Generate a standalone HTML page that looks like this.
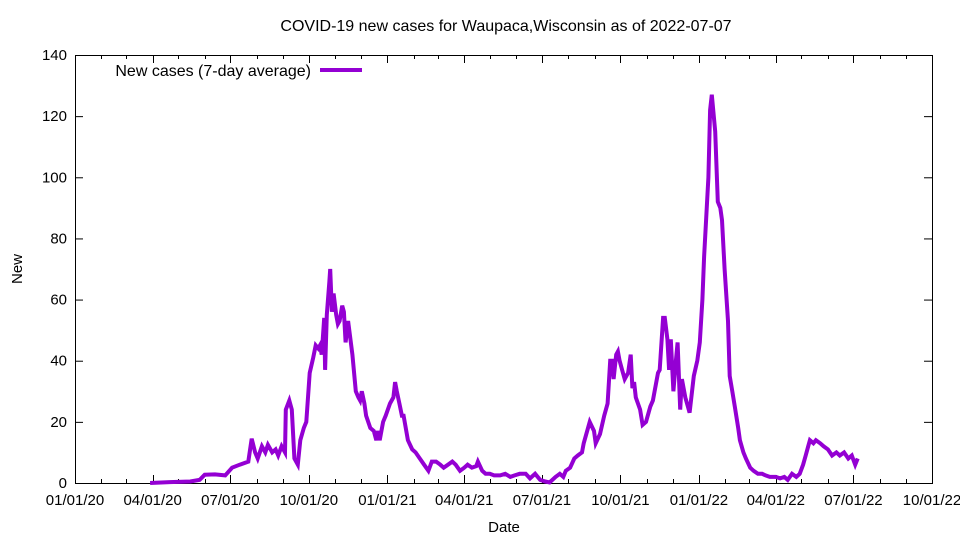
<!DOCTYPE html>
<html><head><meta charset="utf-8"><style>
body{margin:0;background:#fff}
svg{display:block;font-family:"Liberation Sans",sans-serif}
</style></head><body>
<svg id="c" width="960" height="540"></svg>
<script>
const days=[88,111,135,146,152,164,176,184,193,203,207,211,214,219,223,226,231,235,238,242,246,247,251,254,257,261,264,268,271,273,275,279,282,285,287,289,292,293,295,298,299,301,303,306,308,310,313,315,317,320,325,329,332,334,336,339,341,346,350,353,355,357,361,364,369,373,375,377,380,383,385,390,395,399,404,409,414,418,423,428,432,437,442,446,451,456,460,465,470,472,477,481,486,491,498,504,510,515,521,528,533,539,545,551,556,563,568,572,575,580,585,589,594,596,603,608,610,615,620,624,627,629,631,634,636,638,641,644,648,651,653,655,657,662,665,669,674,677,679,683,685,689,691,694,696,698,701,704,706,709,711,715,718,720,725,729,732,735,737,742,744,746,750,753,756,758,761,765,767,770,773,777,779,783,786,791,795,800,805,809,814,821,826,831,835,840,845,849,853,856,859,861,865,868,873,877,882,887,892,896,901,906,910,914,917];
const values=[0,0.3,0.5,1,2.7,2.8,2.5,5,6,7,14.5,10,8,12,10,12.5,10,11,9,12,10,24,27,24,8,6,14,18,20,28,36,41,45,44,45,42,54,37,55,66,70,56,62,55,52,53,58,56,46,53,42,30,28,27,30,26,22,18,17,14,17,14,20,22,26,28,33,30,26,22,22,14,11,10,8,6,4,7,7,6,5,6,7,6,4,5,6,5,5.5,7,4,3,3,2.5,2.5,3,2,2.5,3,3,1.5,3,1,0.5,0.2,2,3,2,4,5,8,9,10,13,20,17,13,16,22,26,40,40,34,42,43,40,37,34,36,42,31,33,28,24,19,20,25,27,30,36,37,54,54,47,37,47,30,40,46,24,34,28,25,23,35,40,46,60,74,100,122,127,115,92,90,86,70,53,35,30,25,18,14,10,8,5,4,3,3,2.5,2,2,1.5,2,1,3,2,3,6,9,12,14,13,14,13,12,11,9,10,9,10,8,9,6,8];
const yTicks=[0,20,40,60,80,100,120,140];
const xTickLabels=["01/01/20","04/01/20","07/01/20","10/01/20","01/01/21","04/01/21","07/01/21","10/01/21","01/01/22","04/01/22","07/01/22","10/01/22"];
const xTickDays=[0,91,182,274,366,456,547,639,731,821,912,1004];
const minorDays=[31,60,121,152,213,244,305,335,397,425,486,517,578,609,670,700,762,790,851,882,943,974];

const L=75,R=932,T=55,B=483,XMAX=1004,YMAX=140;
const X=d=>L+d/XMAX*(R-L), Y=v=>B-v/YMAX*(B-T);
const svg=document.getElementById('c'),NS='http://www.w3.org/2000/svg';
function mk(tag,attrs,parent){const e=document.createElementNS(NS,tag);for(const k in attrs)e.setAttribute(k,attrs[k]);(parent||svg).appendChild(e);return e;}

const title=mk('text',{x:506,y:31,'text-anchor':'middle','font-size':16});
title.textContent='COVID-19 new cases for Waupaca,Wisconsin as of 2022-07-07';



const ticks=mk('g',{stroke:'#000','stroke-width':1});


yTicks.forEach(v=>{
  const y=Y(v)+0.5;
  mk('line',{x1:L,x2:L+8,y1:y,y2:y},ticks);
  mk('line',{x1:R-8,x2:R,y1:y,y2:y},ticks);
  const t=mk('text',{x:L-8,y:Y(v)+5,'text-anchor':'end','font-size':15});
  t.textContent=v;
  
  
});
xTickDays.forEach((d,i)=>{
  const x=Math.round(X(d))+0.5;
  mk('line',{x1:x,x2:x,y1:B,y2:B-8},ticks);
  mk('line',{x1:x,x2:x,y1:T,y2:T+8},ticks);
  const t=mk('text',{x:X(d),y:B+22,'text-anchor':'middle','font-size':15});
  t.textContent=xTickLabels[i];
  
  
});
minorDays.forEach(d=>{
  const x=Math.round(X(d))+0.5;
  mk('line',{x1:x,x2:x,y1:B,y2:B-4},ticks);
  mk('line',{x1:x,x2:x,y1:T,y2:T+4},ticks);
});

const frame=mk('rect',{x:L+0.5,y:T+0.5,width:R-L,height:B-T,fill:'none',stroke:'#000','stroke-width':1});



const yl=mk('text',{x:22,y:269,'text-anchor':'middle','font-size':15,transform:'rotate(-90 22 269)'});
yl.textContent='New';


const xl=mk('text',{x:504,y:532,'text-anchor':'middle','font-size':15});
xl.textContent='Date';



const pts=days.map((d,i)=>X(d).toFixed(1)+','+Y(values[i]).toFixed(1)).join(' ');
const line=mk('polyline',{points:pts,fill:'none',stroke:'#9400d3','stroke-width':4,'stroke-linejoin':'miter'});



const lg=mk('g',{});


const lt=mk('text',{x:311,y:76,'text-anchor':'end','font-size':16},lg);
lt.textContent='New cases (7-day average)';
mk('line',{x1:320,x2:362,y1:70,y2:70,stroke:'#9400d3','stroke-width':4},lg);
</script>
</body></html>
